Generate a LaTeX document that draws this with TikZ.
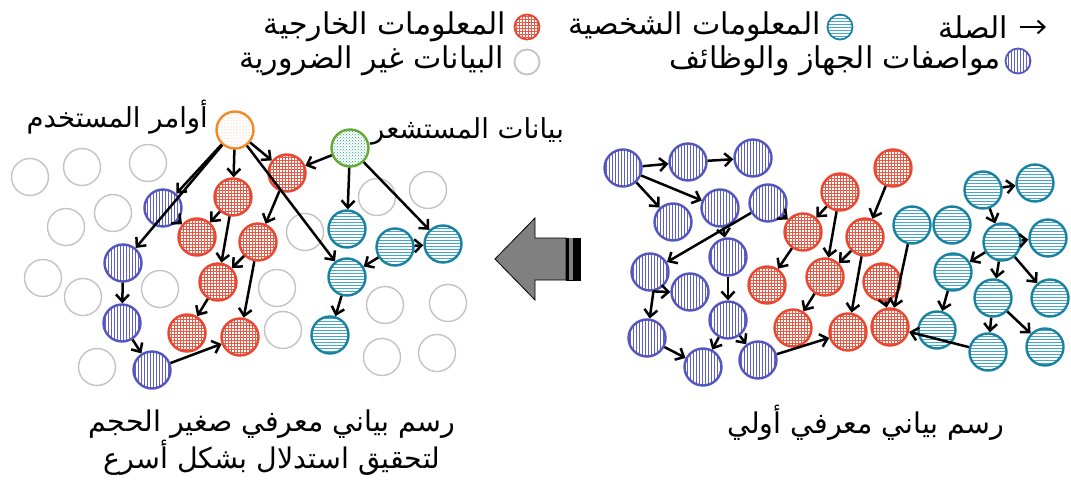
\documentclass[tikz,border=0pt]{standalone}
\usepackage{fontspec}
\newfontfamily\arabicfont[Script=Arabic]{DejaVu Sans}
\TeXXeTstate=1
\usetikzlibrary{arrows.meta}
\usetikzlibrary{patterns}

\definecolor{bluE}{RGB}{85,85,190}
\definecolor{bluP}{RGB}{95,95,205}
\definecolor{redE}{RGB}{232,72,50}
\definecolor{redP}{RGB}{232,90,70}
\definecolor{cyaE}{RGB}{25,130,160}
\definecolor{cyaP}{RGB}{70,165,205}
\definecolor{grayE}{RGB}{195,195,195}
\definecolor{oraE}{RGB}{240,140,40}
\definecolor{oraP}{RGB}{225,170,120}
\definecolor{greE}{RGB}{100,170,50}
\definecolor{greP}{RGB}{40,160,140}
\definecolor{arrG}{RGB}{128,128,128}

\begin{document}
\begin{tikzpicture}[x=1pt,y=-1pt,
  knot/.style={circle,minimum size=37pt,inner sep=0pt,line width=2.4pt},
  dev/.style={knot,draw=bluE,pattern=vertical lines,pattern color=bluP},
  ext/.style={knot,draw=redE,pattern=grid,pattern color=redP},
  pers/.style={knot,draw=cyaE,pattern=horizontal lines,pattern color=cyaP},
  idle/.style={knot,draw=grayE,line width=1.4pt},
  cmd/.style={knot,draw=oraE,pattern=dots,pattern color=oraP},
  sens/.style={knot,draw=greE,pattern=crosshatch dots,pattern color=greP},
  legkey/.style={minimum size=25pt,line width=1.8pt},
  link/.style={line width=2.5pt,-{Straight Barb[length=7pt,width=13pt]}},
  lbl/.style={font=\arabicfont\fontsize{30}{34}\selectfont,inner sep=0pt},
  tag/.style={font=\arabicfont\fontsize{27.5}{32}\selectfont,inner sep=0pt},
  captxt/.style={font=\arabicfont\fontsize{28.5}{37}\selectfont,inner sep=0pt,align=center}
]

\useasboundingbox (0,0) rectangle (1071,484);

% legend
\coordinate (K1) at (1020,27);
\coordinate (K2) at (1046,27);
\draw[link,line width=2pt] (K1) -- (K2);
\node[lbl,anchor=east] (Tlink) at (1008,27) {\beginR الصلة\endR};
\node[pers,legkey] (Kpers) at (840,27) {};
\node[lbl,anchor=east] (Tpers) at (821,27) {\beginR المعلومات الشخصية\endR};
\node[ext,legkey] (Kext) at (527,27) {};
\node[lbl,anchor=east] (Text) at (506,27) {\beginR المعلومات الخارجية\endR};
\node[dev,legkey] (Kdev) at (1018,61) {};
\node[lbl,anchor=east] (Tdev) at (1001,61) {\beginR مواصفات الجهاز والوظائف\endR};
\node[idle,legkey] (Kidle) at (527,62) {};
\node[lbl,anchor=east] (Tidle) at (504,61) {\beginR البيانات غير الضرورية\endR};

% small graph, unused data
\node[idle] (G1) at (30,177) {};
\node[idle] (G2) at (82,167) {};
\node[idle] (G3) at (148,163) {};
\node[idle] (G4) at (113,213) {};
\node[idle] (G5) at (66,227) {};
\node[idle] (G6) at (305,232) {};
\node[idle] (G7) at (377,197) {};
\node[idle] (G8) at (428,190) {};
\node[idle] (G9) at (43,278) {};
\node[idle] (G10) at (83,297) {};
\node[idle] (G11) at (160,289) {};
\node[idle] (G12) at (277,288) {};
\node[idle] (G13) at (385,305) {};
\node[idle] (G14) at (448,303) {};
\node[idle] (G15) at (283,330) {};
\node[idle] (G16) at (97,367) {};
\node[idle] (G17) at (382,357) {};
\node[idle] (G18) at (437,353) {};

% small graph
\node[cmd] (Lo) at (235,130) {};
\node[sens] (Lg) at (350,148) {};
\node[ext] (Lr1) at (287,173) {};
\node[ext] (Lr2) at (233,197) {};
\node[ext] (Lr3) at (197,237) {};
\node[ext] (Lr4) at (258,242) {};
\node[ext] (Lr5) at (218,282) {};
\node[ext] (Lr6) at (187,333) {};
\node[ext] (Lr7) at (240,337) {};
\node[dev] (Lb1) at (163,208) {};
\node[dev] (Lb2) at (123,263) {};
\node[dev] (Lb3) at (122,323) {};
\node[dev] (Lb4) at (152,370) {};
\node[pers] (Lc1) at (347,229) {};
\node[pers] (Lc2) at (395,247) {};
\node[pers] (Lc3) at (443,244) {};
\node[pers] (Lc4) at (347,277) {};
\node[pers] (Lc5) at (330,335) {};

\node[tag,anchor=east] (Tcmd) at (208,117) {\beginR أوامر المستخدم\endR};
\node[tag,anchor=west] (Tsens) at (371,131) {\beginR بيانات المستشعر\endR};

\draw[link] (Lo) -- (Lb1);
\draw[link] (Lo) -- (Lb2);
\draw[link] (Lo) -- (Lr2);
\draw[link] (Lo) -- (Lr1);
\draw[link] (Lo) -- (Lc4);
\draw[link] (Lg) -- (Lr1);
\draw[link] (Lg) -- (Lc1);
\draw[link] (Lg) -- (Lc3);
\draw[link] (Lb1) -- (Lr3);
\draw[link] (Lr2) -- (Lr3);
\draw[link] (Lr2) -- (Lr5);
\draw[link] (Lr1) -- (Lr4);
\draw[link] (Lr4) -- (Lr5);
\draw[link] (Lr4) -- (Lr7);
\draw[link] (Lr5) -- (Lr6);
\draw[link] (Lb2) -- (Lb3);
\draw[link] (Lb3) -- (Lb4);
\draw[link] (Lb4) -- (Lr7);
\draw[link] (Lc2) -- (Lc4);
\draw[link] (Lc2) -- (Lc3);
\draw[link] (Lc4) -- (Lc5);

% big arrow
\filldraw[fill=arrG,draw=black,line width=0.8pt] (495,259) -- (535,218) -- (535,238) -- (566,238) -- (566,280) -- (535,280) -- (535,300) -- cycle;
\filldraw[black] (566,238) rectangle (580,280);
\fill[arrG] (569,238) rectangle (572.5,280);

% initial graph
\node[dev] (Rb1) at (623,168) {};
\node[dev] (Rb2) at (688,162) {};
\node[dev] (Rb3) at (753,158) {};
\node[dev] (Rb4) at (673,222) {};
\node[dev] (Rb5) at (720,208) {};
\node[dev] (Rb6) at (768,203) {};
\node[dev] (Rb7) at (650,272) {};
\node[dev] (Rb8) at (728,257) {};
\node[dev] (Rb9) at (690,292) {};
\node[dev] (Rb10) at (647,338) {};
\node[dev] (Rb11) at (728,320) {};
\node[dev] (Rb12) at (703,367) {};
\node[dev] (Rb13) at (758,360) {};
\node[ext] (Rr1) at (840,192) {};
\node[ext] (Rr2) at (893,168) {};
\node[ext] (Rr3) at (803,232) {};
\node[ext] (Rr4) at (865,237) {};
\node[ext] (Rr5) at (767,285) {};
\node[ext] (Rr6) at (825,277) {};
\node[ext] (Rr7) at (882,282) {};
\node[ext] (Rr8) at (793,328) {};
\node[ext] (Rr9) at (848,332) {};
\node[ext] (Rr10) at (890,327) {};
\node[pers] (Rc1) at (912,225) {};
\node[pers] (Rc2) at (952,225) {};
\node[pers] (Rc3) at (983,190) {};
\node[pers] (Rc4) at (1035,183) {};
\node[pers] (Rc5) at (1002,242) {};
\node[pers] (Rc6) at (1048,238) {};
\node[pers] (Rc7) at (953,272) {};
\node[pers] (Rc8) at (993,298) {};
\node[pers] (Rc9) at (1050,298) {};
\node[pers] (Rc10) at (937,330) {};
\node[pers] (Rc11) at (988,352) {};
\node[pers] (Rc12) at (1045,347) {};

\draw[link] (Rb1) -- (Rb2);
\draw[link] (Rb2) -- (Rb3);
\draw[link] (Rb1) -- (Rb4);
\draw[link] (Rb1) -- (Rb5);
\draw[link] (Rb6) -- (Rb7);
\draw[link] (Rb5) -- (Rb8);
\draw[link] (Rb6) -- (Rr3);
\draw[link] (Rb7.-80) -- (Rb9.west);
\draw[link] (Rb7.-80) -- (Rb10);
\draw[link] (Rb8) -- (Rb11);
\draw[link] (Rb11) -- (Rb12);
\draw[link] (Rb11) -- (Rb13);
\draw[link] (Rb10) -- (Rb12);
\draw[link] (Rb13) -- (Rr9);
\draw[link] (Rr1) -- (Rr3);
\draw[link] (Rr1) -- (Rr6);
\draw[link] (Rr2) -- (Rr4);
\draw[link] (Rr3) -- (Rr5);
\draw[link] (Rr4) -- (Rr6);
\draw[link] (Rr4) -- (Rr9);
\draw[link] (Rr6) -- (Rr8);
\draw[link] (Rr7) -- (Rr10);
\draw[link] (Rc1) -- (Rr10);
\draw[link] (Rc11) -- (Rr10);
\draw[link] (Rc3) -- (Rc4);
\draw[link] (Rc3) -- (Rc5);
\draw[link] (Rc5) -- (Rc6);
\draw[link] (Rc5) -- (Rc7);
\draw[link] (Rc5) -- (Rc8);
\draw[link] (Rc5) -- (Rc9);
\draw[link] (Rc7) -- (Rc10);
\draw[link] (Rc8) -- (Rc11);
\draw[link] (Rc8) -- (Rc12);

% captions
\node[captxt] (Csmall) at (272,443) {\beginR رسم بياني معرفي صغير الحجم\endR\\\beginR لتحقيق استدلال بشكل أسرع\endR};
\node[captxt] (Cinit) at (866,423) {\beginR رسم بياني معرفي أولي\endR};

\end{tikzpicture}
\end{document}
